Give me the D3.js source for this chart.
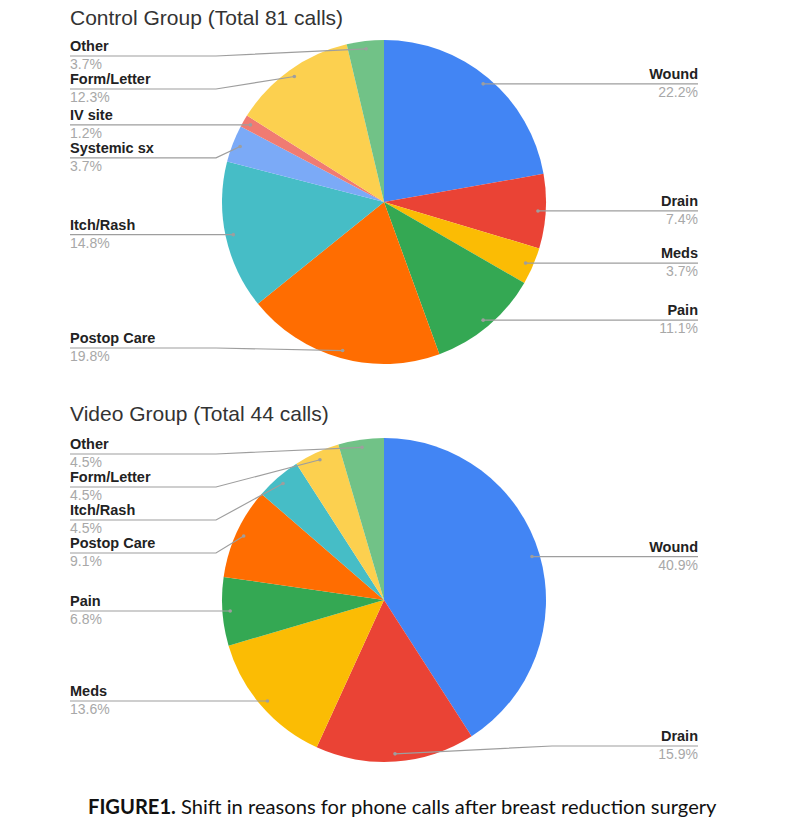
<!DOCTYPE html>
<html>
<head>
<meta charset="utf-8">
<script src="https://cdn.jsdelivr.net/npm/d3@7"></script>
<style>
  body { margin: 0; background: #fff; }
  svg { display: block; }
</style>
</head>
<body>
<svg id="chart" width="790" height="835"></svg>
<script>
// call counts per reason, in slice order (clockwise from 12 o'clock)
const controlLabels = ["Wound", "Drain", "Meds", "Pain", "Postop Care", "Itch/Rash", "Systemic sx", "IV site", "Form/Letter", "Other"];
const controlCounts = [18, 6, 3, 9, 16, 12, 3, 1, 10, 3];
const controlPct = ["22.2%", "7.4%", "3.7%", "11.1%", "19.8%", "14.8%", "3.7%", "1.2%", "12.3%", "3.7%"];

const videoLabels = ["Wound", "Drain", "Meds", "Pain", "Postop Care", "Itch/Rash", "Form/Letter", "Other"];
const videoCounts = [18, 7, 6, 3, 4, 2, 2, 2];
const videoPct = ["40.9%", "15.9%", "13.6%", "6.8%", "9.1%", "4.5%", "4.5%", "4.5%"];

const titles = ["Control Group (Total 81 calls)", "Video Group (Total 44 calls)"];

const colors = {
  "Wound": "#4285f4",
  "Drain": "#ea4335",
  "Meds": "#fbbc04",
  "Pain": "#34a853",
  "Postop Care": "#ff6d01",
  "Itch/Rash": "#46bdc6",
  "Systemic sx": "#7baaf7",
  "IV site": "#f07b72",
  "Form/Letter": "#fcd04f",
  "Other": "#71c287"
};

const svg = d3.select("#chart");
const R = 162;

function drawPie(labels, counts, pcts, title, cx, cy, titleY) {
  const g = svg.append("g");

  g.append("text")
    .attr("x", 70).attr("y", titleY)
    .attr("font-family", "Liberation Sans, Arial, sans-serif")
    .attr("font-size", 21)
    .attr("fill", "#333")
    .text(title);

  const rows = labels.map((l, i) => ({ label: l, count: counts[i], pct: pcts[i] }));
  const arcs = d3.pie().sort(null).value(d => d.count)(rows);
  const arc = d3.arc().innerRadius(0).outerRadius(R);

  g.append("g")
    .attr("transform", `translate(${cx},${cy})`)
    .selectAll("path")
    .data(arcs)
    .join("path")
      .attr("d", arc)
      .attr("fill", d => colors[d.data.label]);

  // anchor dot inside each slice
  const rDot = R * 0.952;
  arcs.forEach(d => {
    const a = (d.startAngle + d.endAngle) / 2;
    d.dx = cx + rDot * Math.sin(a);
    d.dy = cy - rDot * Math.cos(a);
    d.side = Math.sin(a) >= 0 ? "right" : "left";
  });

  // stack labels on each side so they do not overlap
  const gap = 33, minY = cy - R + 16, maxY = cy + R - 16;
  ["left", "right"].forEach(side => {
    const items = arcs.filter(d => d.side === side).sort((a, b) => a.dy - b.dy);
    items.forEach((d, i) => {
      d.ly = Math.max(d.dy, minY, i ? items[i - 1].ly + gap : -Infinity);
    });
    for (let i = items.length - 1; i >= 0; i--) {
      const next = i < items.length - 1 ? items[i + 1].ly - gap : Infinity;
      items[i].ly = Math.min(items[i].ly, maxY, next);
    }
  });

  const labelG = g.append("g");
  arcs.forEach(d => {
    const left = d.side === "left";
    const tx = left ? 70 : 698;
    const bend = left ? cx - R - 6 : cx + R + 6;
    labelG.append("path")
      .attr("d", d3.line()([[tx, d.ly], [bend, d.ly], [d.dx, d.dy]]))
      .attr("fill", "none")
      .attr("stroke", "#9e9e9e")
      .attr("stroke-width", 1.2);
    labelG.append("circle")
      .attr("cx", d.dx).attr("cy", d.dy).attr("r", 1.8)
      .attr("fill", "#9e9e9e");
    labelG.append("text")
      .attr("x", tx).attr("y", d.ly - 5)
      .attr("text-anchor", left ? "start" : "end")
      .attr("font-family", "Liberation Sans, Arial, sans-serif")
      .attr("font-size", 14.5)
      .attr("font-weight", "bold")
      .attr("fill", "#222")
      .text(d.data.label);
    labelG.append("text")
      .attr("x", tx).attr("y", d.ly + 13)
      .attr("text-anchor", left ? "start" : "end")
      .attr("font-family", "Liberation Sans, Arial, sans-serif")
      .attr("font-size", 14)
      .attr("fill", "#a8a8a8")
      .text(d.data.pct);
  });
}

drawPie(controlLabels, controlCounts, controlPct, titles[0], 384, 202, 25);
drawPie(videoLabels, videoCounts, videoPct, titles[1], 384, 600, 421);

// caption
const cap = svg.append("text")
  .attr("x", 88).attr("y", 814)
  .attr("font-family", "Lato, 'Open Sans', sans-serif")
  .attr("font-size", 21)
  .attr("fill", "#111");
cap.append("tspan").attr("font-weight", "bold").text("FIGURE1.");
cap.append("tspan").text(" Shift in reasons for phone calls after breast reduction surgery");
const w = cap.node().getComputedTextLength();
cap.attr("font-size", 21 * 629 / w);
</script>
</body>
</html>
